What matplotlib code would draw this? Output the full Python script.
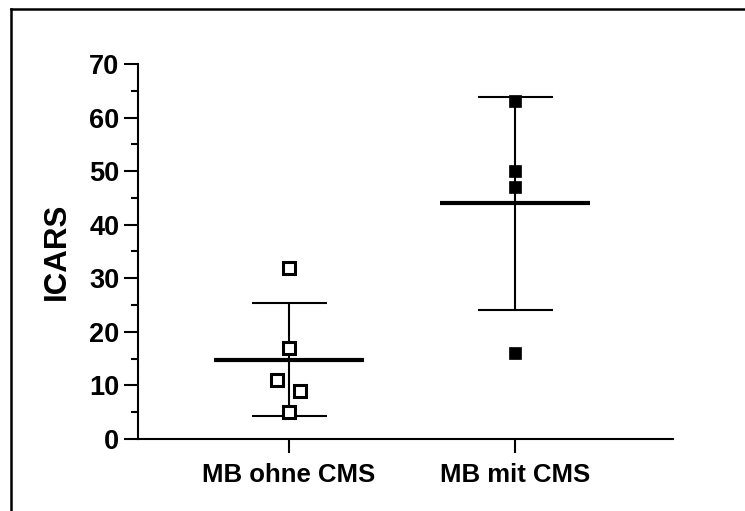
import numpy as np
import matplotlib
matplotlib.use("Agg")
import matplotlib.pyplot as plt
from matplotlib.lines import Line2D

categories = ["MB ohne CMS", "MB mit CMS"]
ohne_cms = [32, 17, 11, 9, 5]
mit_cms = [63, 50, 47, 16]
ohne_offsets = [0.0, 0.0, -0.053, 0.049, 0.0]
mit_offsets = [0.0, 0.0, 0.0, 0.0]
y_ticks = [0, 10, 20, 30, 40, 50, 60, 70]

plt.rcParams['font.family'] = ['Liberation Sans', 'DejaVu Sans']
plt.rcParams['font.weight'] = 'bold'

fig = plt.figure(figsize=(7.45, 5.11), dpi=100)
ax = fig.add_axes([138/745, 1 - 439/511, (673-138)/745, (439-64)/511])

groups = [ohne_cms, mit_cms]
offsets = [ohne_offsets, mit_offsets]
for i, (vals, offs) in enumerate(zip(groups, offsets)):
    vals = np.array(vals, dtype=float)
    m = vals.mean()
    sd = vals.std(ddof=1)
    ax.errorbar([i], [m], yerr=[sd], fmt='none', ecolor='black', elinewidth=1.5,
                capsize=27, capthick=1.5, zorder=2)
    ax.plot([i - 0.33, i + 0.33], [m, m], color='black', lw=3, zorder=3,
            solid_capstyle='butt')
    xs = i + np.array(offs)
    if i == 0:
        ax.plot(xs, vals, 's', ms=8.6, mfc='white', mec='black', mew=2.2,
                ls='none', zorder=4)
    else:
        ax.plot(xs, vals, 's', ms=9, mfc='black', mec='black', mew=0.5,
                ls='none', zorder=4)

ax.set_xlim(-0.668, 1.699)
ax.set_ylim(0, 70)
ax.set_yticks(y_ticks)
ax.set_yticks(np.arange(5, 70, 10), minor=True)
ax.set_xticks([0, 1])
ax.set_xticklabels(categories, fontweight='bold')

ax.spines['top'].set_visible(False)
ax.spines['right'].set_visible(False)
ax.spines['left'].set_linewidth(1.5)
ax.spines['bottom'].set_linewidth(1.5)
ax.tick_params(axis='y', which='major', length=10, width=1.5, pad=3.5, labelsize=19.5)
ax.tick_params(axis='y', which='minor', length=5, width=1.5)
ax.tick_params(axis='x', which='major', length=10, width=1.5, pad=7, labelsize=18.5)

ax.set_ylabel("ICARS", fontsize=22.5, fontweight='bold')
ax.yaxis.set_label_coords(-0.123, 0.5)

fig.add_artist(Line2D([11/745, 1], [1 - 9/511, 1 - 9/511], transform=fig.transFigure,
                      color='black', lw=1.8))
fig.add_artist(Line2D([11/745, 11/745], [0, 1 - 9/511], transform=fig.transFigure,
                      color='black', lw=1.8))

fig.savefig("out.png", dpi=100)
